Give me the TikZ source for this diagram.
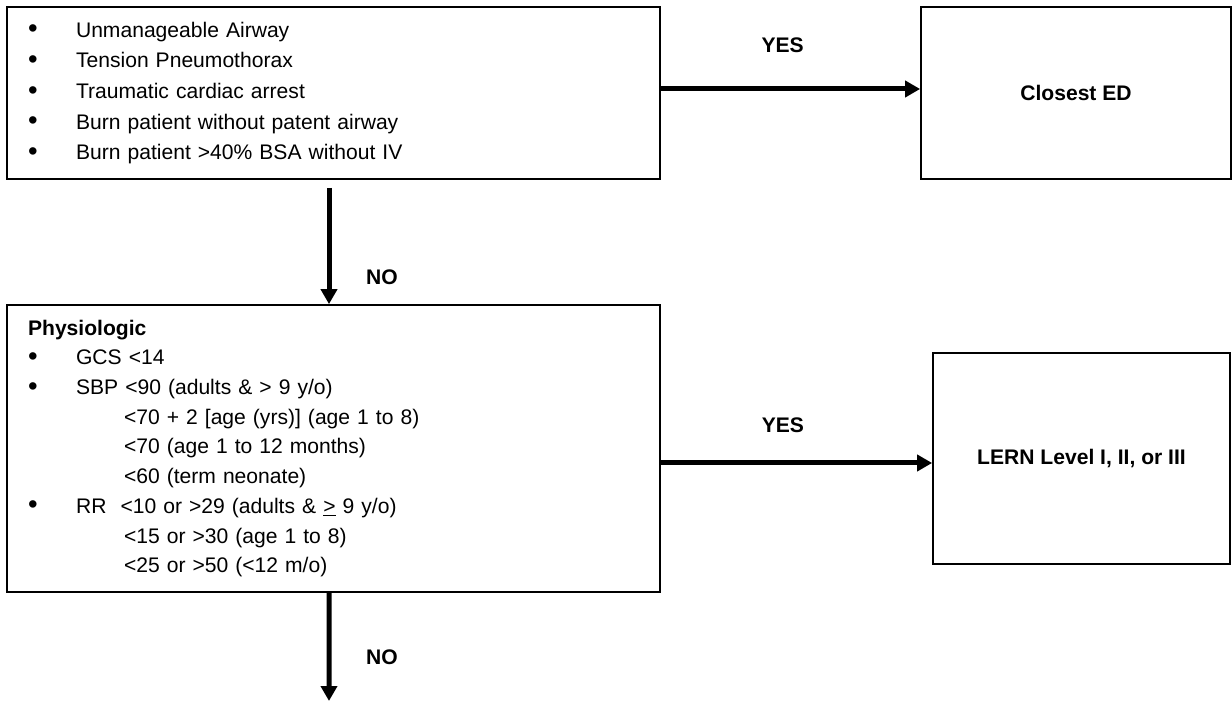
\documentclass[tikz,border=0pt]{standalone}
\usepackage{graphicx}
\usepackage{fontspec}
\setmainfont{Liberation Sans}
\usetikzlibrary{arrows.meta, positioning}

\newcommand{\bulln}[1]{\makebox[0.96cm][l]{\raisebox{-0.03em}{\scalebox{1.3}{\textbullet}}}#1}
\newcommand{\subln}[1]{\hspace*{1.92cm}#1}

\begin{document}
\begin{tikzpicture}[
	x=0.02cm, y=-0.02cm,
	box/.style={rectangle, draw, line width=1pt, inner sep=0pt},
	listbox/.style={box, align=left, text width=12.22cm, inner xsep=0.42cm, minimum width=13.06cm},
	endbox/.style={box, font=\fontsize{12}{14}\selectfont\bfseries, align=center},
	lbl/.style={font=\fontsize{12}{14}\selectfont\bfseries},
	arr/.style={-{Triangle[length=3mm, width=3.2mm]}, line width=0.1cm}
	]
	\useasboundingbox (0,0) rectangle (1232,702);

	\node[listbox, minimum height=3.44cm, font=\fontsize{12}{17.4}\selectfont] (crit) at (333.5,93)
		{\bulln{Unmanageable Airway}\\
		 \bulln{Tension Pneumothorax}\\
		 \bulln{Traumatic cardiac arrest}\\
		 \bulln{Burn patient without patent airway}\\
		 \bulln{Burn patient >40\% BSA without IV}};
	\node[endbox, minimum width=6.2cm, minimum height=3.44cm] (closest) at (1076,93) {Closest ED};

	\node[listbox, minimum height=5.74cm, font=\fontsize{12}{16.9}\selectfont] (phys) at (333.5,448.5)
		{\textbf{Physiologic}\\
		 \bulln{GCS <14}\\
		 \bulln{SBP <90 (adults \& > 9 y/o)}\\
		 \subln{<70 + 2 [age (yrs)] (age 1 to 8)}\\
		 \subln{<70 (age 1 to 12 months)}\\
		 \subln{<60 (term neonate)}\\
		 \bulln{RR\ \ <10 or >29 (adults \& \underline{>} 9 y/o)}\\
		 \subln{<15 or >30 (age 1 to 8)}\\
		 \subln{<25 or >50 (<12 m/o)}};
	\node[endbox, minimum width=5.94cm, minimum height=4.22cm] (lern) at (1081.5,458.5) {LERN Level I, II, or III};

	\coordinate (nextstep) at (329,701);

	% yes / no branches
	\draw[arr] ([yshift=0.08cm]crit.east) -- ([yshift=0.08cm]closest.west) node[lbl, pos=0.47, yshift=0.88cm] {YES};
	\draw[arr] ([xshift=-0.09cm, yshift=-0.16cm]crit.south) -- ([xshift=-0.09cm]phys.north) node[lbl, pos=0.77, xshift=1.06cm] {NO};
	\draw[arr] ([yshift=-0.09cm]phys.east |- lern.west) -- ([yshift=-0.09cm]lern.west) node[lbl, pos=0.45, yshift=0.76cm] {YES};
	\draw[arr] ([xshift=-0.09cm]phys.south) -- (nextstep) node[lbl, pos=0.6, xshift=1.06cm] {NO};
\end{tikzpicture}
\end{document}
